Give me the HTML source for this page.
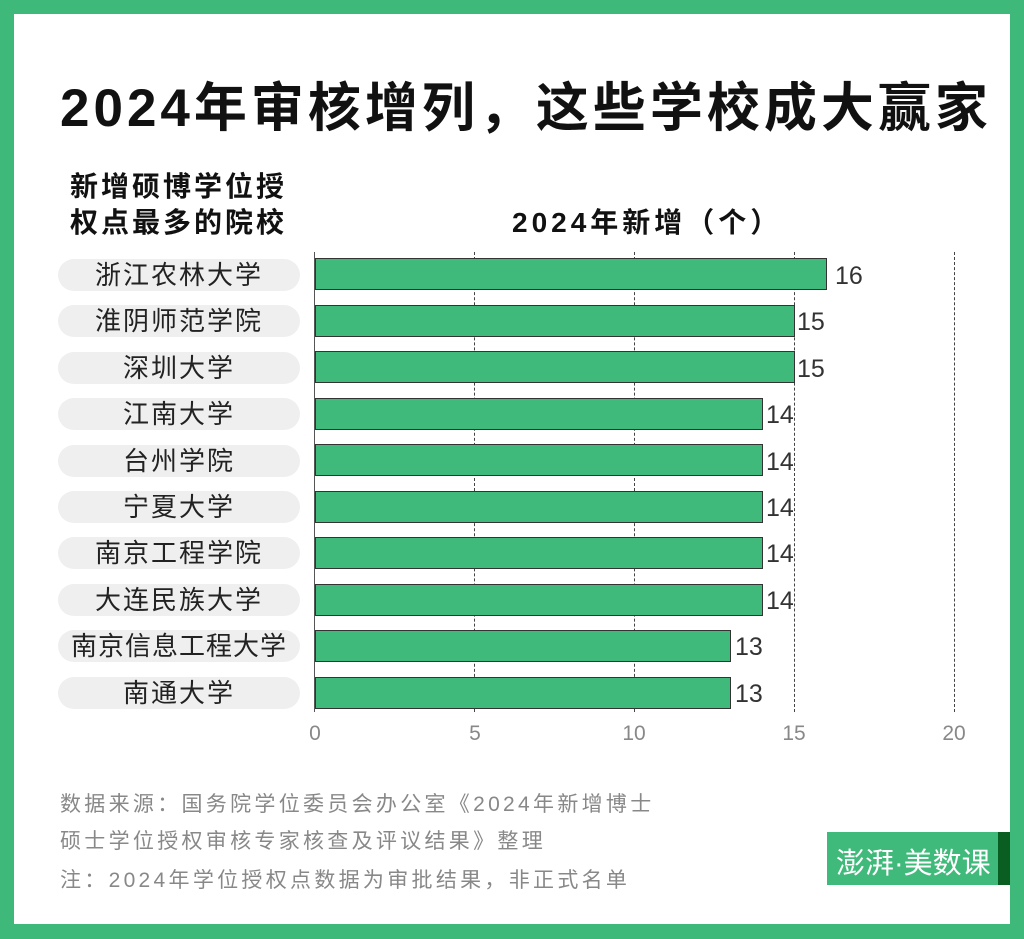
<!DOCTYPE html><html><head><meta charset="utf-8"><style>
body{margin:0;width:1024px;height:939px;background:#3fb97a;position:relative;overflow:hidden;font-family:"Liberation Sans","Noto Sans CJK SC",sans-serif}
.in{position:absolute;left:14px;top:14px;width:996px;height:910px;background:#fff}
.a{position:absolute;white-space:nowrap}
.pill{position:absolute;left:58px;width:242px;height:32px;border-radius:16px;background:#efefef;font-size:26px;letter-spacing:2px;color:#222;text-align:center;line-height:32px}
.bar{position:absolute;left:315px;height:32px;background:#3fba7a;border:1px solid #333;box-sizing:border-box}
.v{position:absolute;font-size:25px;color:#333;line-height:34px}
.g{position:absolute;top:252px;height:460px;border-left:1px dashed #444}
.t{position:absolute;top:722px;font-size:21px;color:#888;width:40px;text-align:center}
.f{position:absolute;left:60px;font-size:21px;letter-spacing:3.3px;color:#888}
</style></head><body><div class="in"></div>
<div class="a" style="left:60px;top:66px;font-size:53px;letter-spacing:4px;font-weight:bold;color:#111">2024年审核增列，这些学校成大赢家</div>
<div class="a" style="left:70px;top:169px;font-size:28px;letter-spacing:3px;font-weight:bold;color:#111;line-height:36px">新增硕博学位授<br>权点最多的院校</div>
<div class="a" style="left:512px;top:201px;font-size:28px;letter-spacing:4px;font-weight:bold;color:#111">2024年新增（个）</div>
<div class="g" style="left:474px"></div><div class="g" style="left:634px"></div><div class="g" style="left:794px"></div><div class="g" style="left:954px"></div>
<div class="pill" style="top:259px">浙江农林大学</div><div class="bar" style="top:258px;width:512px"></div><div class="v" style="left:835px;top:259px">16</div>
<div class="pill" style="top:305px">淮阴师范学院</div><div class="bar" style="top:305px;width:480px"></div><div class="v" style="left:797px;top:305px">15</div>
<div class="pill" style="top:352px">深圳大学</div><div class="bar" style="top:351px;width:480px"></div><div class="v" style="left:797px;top:352px">15</div>
<div class="pill" style="top:398px">江南大学</div><div class="bar" style="top:398px;width:448px"></div><div class="v" style="left:766px;top:398px">14</div>
<div class="pill" style="top:445px">台州学院</div><div class="bar" style="top:444px;width:448px"></div><div class="v" style="left:766px;top:445px">14</div>
<div class="pill" style="top:491px">宁夏大学</div><div class="bar" style="top:491px;width:448px"></div><div class="v" style="left:766px;top:491px">14</div>
<div class="pill" style="top:537px">南京工程学院</div><div class="bar" style="top:537px;width:448px"></div><div class="v" style="left:766px;top:537px">14</div>
<div class="pill" style="top:584px">大连民族大学</div><div class="bar" style="top:584px;width:448px"></div><div class="v" style="left:766px;top:584px">14</div>
<div class="pill" style="top:630px;letter-spacing:1px">南京信息工程大学</div><div class="bar" style="top:630px;width:416px"></div><div class="v" style="left:735px;top:630px">13</div>
<div class="pill" style="top:677px">南通大学</div><div class="bar" style="top:677px;width:416px"></div><div class="v" style="left:735px;top:677px">13</div>
<div style="position:absolute;left:314px;top:252px;width:1px;height:460px;background:#555"></div>
<div class="t" style="left:295px">0</div><div class="t" style="left:455px">5</div><div class="t" style="left:614px">10</div><div class="t" style="left:774px">15</div><div class="t" style="left:934px">20</div>
<div class="f" style="top:788px">数据来源：国务院学位委员会办公室《2024年新增博士</div>
<div class="f" style="top:825px">硕士学位授权审核专家核查及评议结果》整理</div>
<div class="f" style="top:864px">注：2024年学位授权点数据为审批结果，非正式名单</div>
<div class="a" style="left:827px;top:832px;width:183px;height:53px;background:#3fba7a"></div>
<div class="a" style="left:998px;top:832px;width:12px;height:53px;background:#0a5e22"></div>
<div class="a" style="left:836px;top:840px;font-size:29px;color:#fff">澎湃·美数课</div>
</body></html>
